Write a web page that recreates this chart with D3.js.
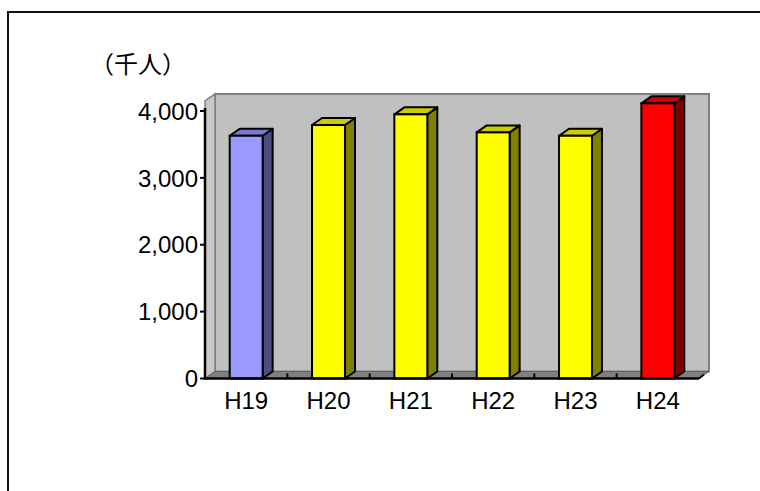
<!DOCTYPE html>
<html><head><meta charset="utf-8">
<script src="https://cdn.jsdelivr.net/npm/d3@7"></script>
<style>html,body{margin:0;padding:0;background:#fff;overflow:hidden}</style>
</head><body>
<svg id="c" width="760" height="491"></svg>
<script>
const categories = ["H19","H20","H21","H22","H23","H24"];
const values = [3630, 3790, 3950, 3680, 3630, 4115];
const frontColors = ["#9999ff","#ffff00","#ffff00","#ffff00","#ffff00","#ff0000"];
const topColors   = ["#7a7acc","#cccc00","#cccc00","#cccc00","#cccc00","#cc0000"];
const sideColors  = ["#4d4d80","#808000","#808000","#808000","#808000","#800000"];
const yTicks = [0, 1000, 2000, 3000, 4000];
const unitLabel = "（千人）";
const wallMax = 4150;

const svg = d3.select("#c");
const left = 205, right = 699;
const depthX = 10, depthY = -7;

const x = d3.scaleBand().domain(categories).range([left, right]).paddingInner(0.6).paddingOuter(0.3);
const y = d3.scaleLinear().domain([0, 4000]).range([378.5, 111]);

// outer frame
svg.append("rect").attr("x", 8).attr("y", 12).attr("width", 800).attr("height", 600)
  .attr("fill", "none").attr("stroke", "#111").attr("stroke-width", 2);

const poly = pts => pts.map(p => p.join(",")).join(" ");
const y0 = y(0), yTop = y(wallMax);

// back wall
svg.append("polygon").attr("points", poly([[left+depthX, yTop+depthY],[right+depthX, yTop+depthY],[right+depthX, y0+depthY],[left+depthX, y0+depthY]]))
  .attr("fill", "#c0c0c0").attr("stroke", "#808080").attr("stroke-width", 2);
// side wall
svg.append("polygon").attr("points", poly([[left, yTop],[left+depthX, yTop+depthY],[left+depthX, y0+depthY],[left, y0]]))
  .attr("fill", "#c8c8c8").attr("stroke", "#808080").attr("stroke-width", 1.5);
// floor
svg.append("polygon").attr("points", poly([[left, y0],[left+depthX, y0+depthY],[right+depthX, y0+depthY],[right, y0]]))
  .attr("fill", "#808080").attr("stroke", "#606060").attr("stroke-width", 1);

// bars
const g = svg.append("g");
categories.forEach((c, i) => {
  const bx = x(c), bw = x.bandwidth(), by = y(values[i]);
  g.append("polygon").attr("points", poly([[bx+bw, by],[bx+bw+depthX, by+depthY],[bx+bw+depthX, y0+depthY],[bx+bw, y0]]))
    .attr("fill", sideColors[i]).attr("stroke", "#000").attr("stroke-width", 2).attr("stroke-linejoin", "round");
  g.append("polygon").attr("points", poly([[bx, by],[bx+depthX, by+depthY],[bx+bw+depthX, by+depthY],[bx+bw, by]]))
    .attr("fill", topColors[i]).attr("stroke", "#000").attr("stroke-width", 2).attr("stroke-linejoin", "round");
  g.append("rect").attr("x", bx).attr("y", by).attr("width", bw).attr("height", y0 - by)
    .attr("fill", frontColors[i]).attr("stroke", "#000").attr("stroke-width", 2);
});

// x axis line and ticks
svg.append("line").attr("x1", left).attr("x2", right).attr("y1", y0).attr("y2", y0)
  .attr("stroke", "#000").attr("stroke-width", 2.5);
const step = (right - left) / categories.length;
d3.range(1, categories.length).forEach(k => {
  svg.append("line").attr("x1", left + k*step).attr("x2", left + k*step).attr("y1", y0).attr("y2", y0 - 5)
    .attr("stroke", "#000").attr("stroke-width", 2);
});
svg.append("line").attr("x1", right).attr("x2", right + 5).attr("y1", y0).attr("y2", y0 - 4)
  .attr("stroke", "#000").attr("stroke-width", 2);

// y axis line
svg.append("line").attr("x1", left).attr("x2", left).attr("y1", y(4000) - 3).attr("y2", y0 + 1)
  .attr("stroke", "#000").attr("stroke-width", 2.5);
yTicks.forEach(t => {
  svg.append("line").attr("x1", left - 5).attr("x2", left).attr("y1", y(t)).attr("y2", y(t))
    .attr("stroke", "#000").attr("stroke-width", 2);
  svg.append("text").attr("x", 198).attr("y", y(t)).attr("dy", "0.36em").attr("text-anchor", "end")
    .attr("font-family", "'Liberation Sans', Arial, sans-serif").attr("font-size", 24).attr("fill", "#000")
    .text(d3.format(",")(t));
});

// x labels
categories.forEach(c => {
  svg.append("text").attr("x", x(c) + x.bandwidth()/2).attr("y", 400).attr("dy", "0.36em").attr("text-anchor", "middle")
    .attr("font-family", "'Liberation Sans', Arial, sans-serif").attr("font-size", 24).attr("fill", "#000")
    .text(c);
});

// unit label
svg.append("text").attr("x", 90).attr("y", 64).attr("dy", "0.36em")
  .attr("font-family", "'Noto Sans CJK JP', sans-serif").attr("font-size", 24).attr("fill", "#000")
  .text(unitLabel);
</script>
</body></html>
